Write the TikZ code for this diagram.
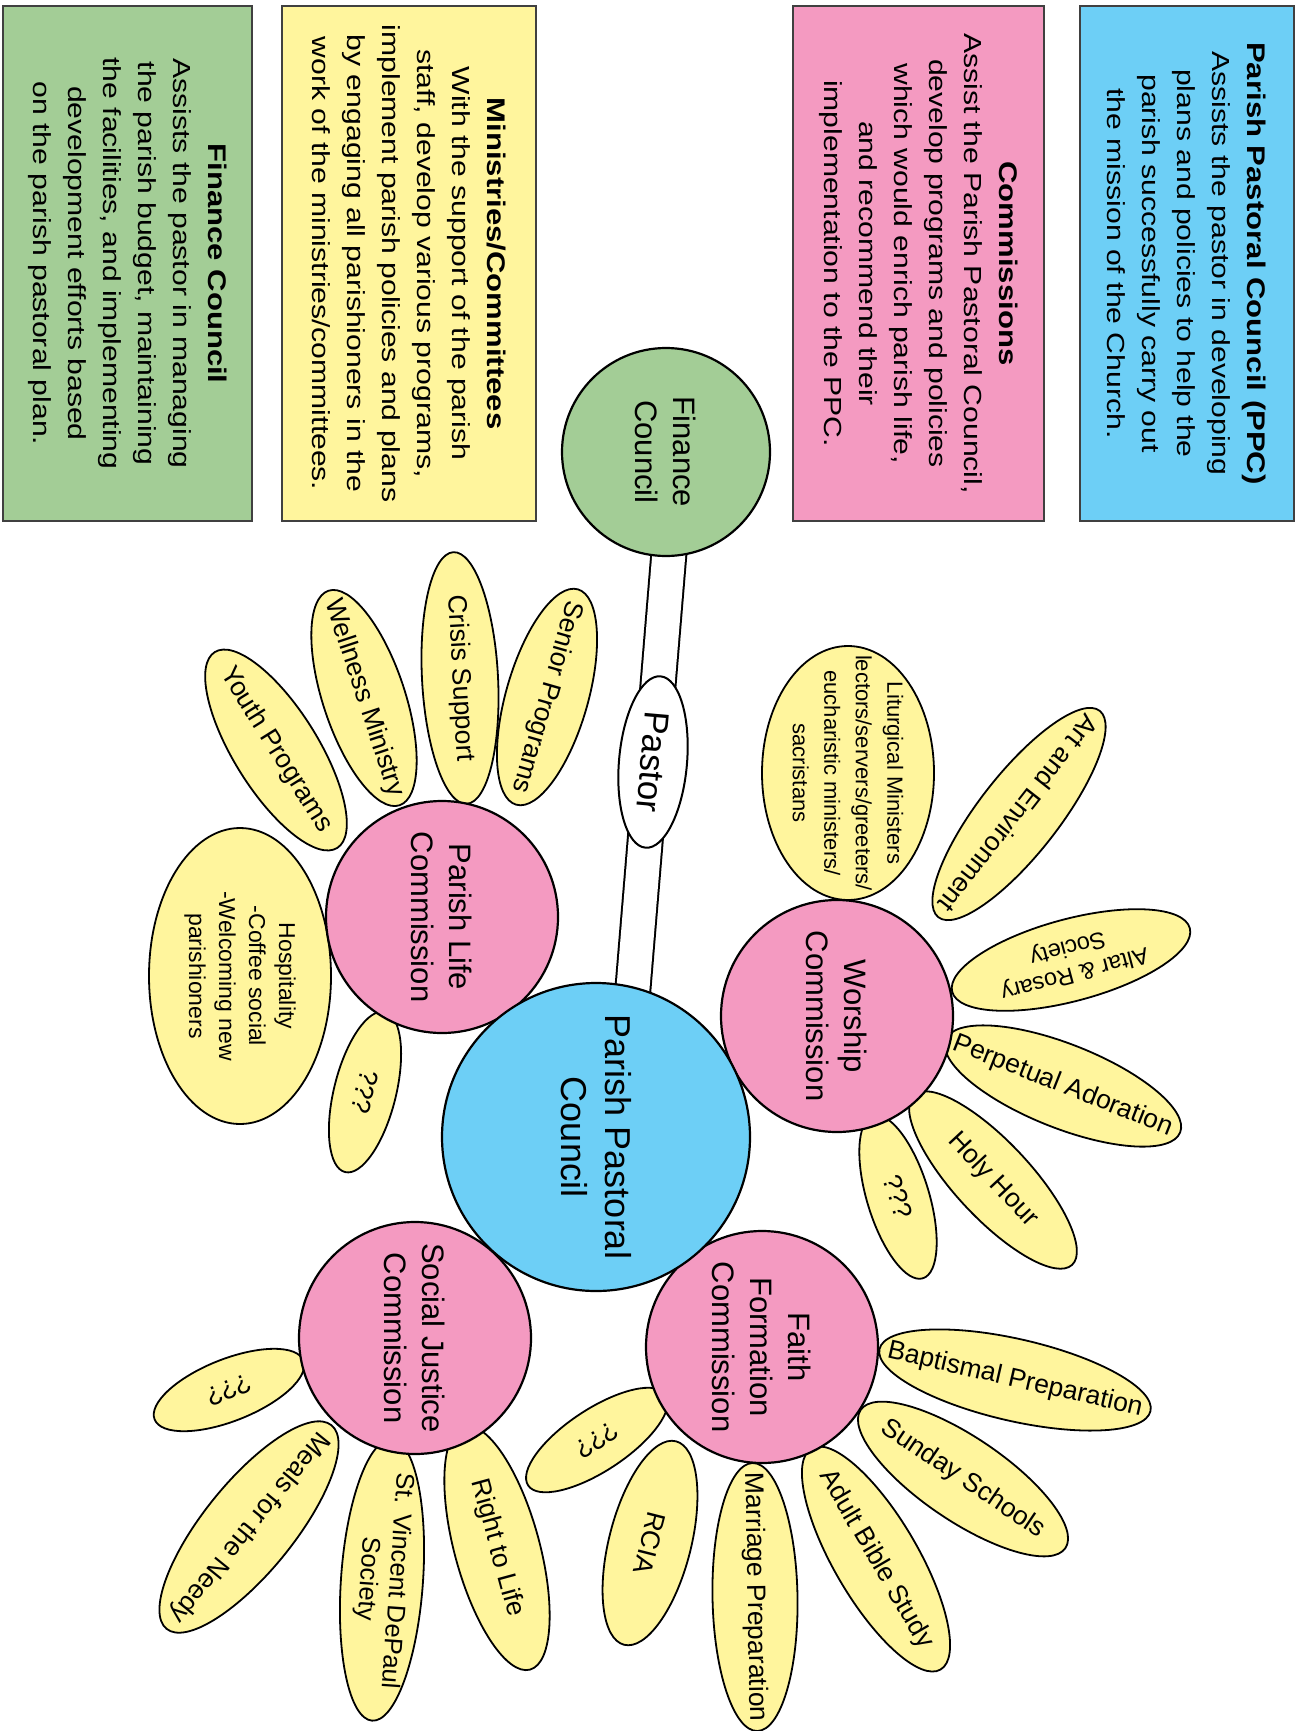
\documentclass[tikz,border=0pt]{standalone}
\usepackage{fontspec}
\setmainfont{Liberation Sans}
\newfontfamily\boxfam{Liberation Sans}[FakeStretch=1.22]
\usetikzlibrary{shapes.geometric}
\definecolor{ppcblue}{HTML}{6DCFF6}
\definecolor{compink}{HTML}{F49AC1}
\definecolor{petyellow}{HTML}{FFF59D}
\definecolor{fingreen}{HTML}{A3CD96}
\newcommand{\ttlfont}{\fontsize{25.5}{35}\selectfont\bfseries}
\tikzset{
  petal/.style={ellipse, draw=black, line width=1.8pt, fill=petyellow, inner sep=0pt},
  petaltext/.style={font=\fontsize{26.5}{30}\selectfont, align=center, inner sep=0pt},
  comm/.style={circle, draw=black, line width=2.2pt, fill=compink, minimum size=232pt, inner sep=0pt,
    rotate=-90, align=center, font=\fontsize{31}{38}\selectfont},
  infobox/.style={draw=black!75, line width=1.6pt, rotate=-90, align=center, inner sep=0pt,
    font=\boxfam\fontsize{24.7}{35}\selectfont},
  bar/.style={line width=2pt, double=white, double distance=33pt},
}
\newcommand{\petalnode}[8][]{%
  \node[petal, minimum width=#5, minimum height=#6, rotate=#7] (#2) at (#3,#4) {};
  \node[petaltext, rotate=#7, #1] (#2t) at (#2) {#8};}
\begin{document}
\begin{tikzpicture}[x=1pt,y=-1pt]
\useasboundingbox (0,0) rectangle (1302,1731);
\fill[white] (0,0) rectangle (1302,1731);

% bar between finance council and PPC
\coordinate (bartop) at (670,540);
\coordinate (barbot) at (632,1000);
\draw[bar] (bartop) -- (barbot);

% petals - worship
\petalnode[font=\fontsize{22}{31.5}\selectfont]{lit}{848}{773}{254}{172}{-90}{Liturgical Ministers\\lectors/servers/greeters/\\eucharistic ministers/\\sacristans}
\petalnode{art}{1019}{814}{262}{80}{232}{Art and Environment}
\petalnode[font=\fontsize{23.5}{27}\selectfont]{altar}{1071}{960}{246}{82}{195}{Altar \& Rosary\\Society}
\petalnode{perp}{1063}{1086}{252}{84}{-21.6}{Perpetual Adoration}
\petalnode{holy}{993}{1180}{232}{76}{-47}{Holy Hour}
\petalnode{wq}{898}{1197}{170}{62}{-73}{???}
% petals - parish life
\petalnode{senior}{547}{697}{224}{82}{-106}{Senior Programs}
\petalnode{crisis}{460}{678}{252}{76}{-87}{Crisis Support}
\petalnode{well}{364}{698}{226}{82}{-71.7}{Wellness Ministry}
\petalnode{youth}{276}{750}{231}{84}{-58}{Youth Programs}
\petalnode[font=\fontsize{23}{30}\selectfont]{hosp}{240}{976}{296}{182}{-90}{Hospitality\\-Coffee social\\-Welcoming new\\parishioners}
\petalnode{plq}{365}{1092}{165}{62}{-104}{???}
% petals - faith formation
\petalnode{bapt}{1015}{1380}{278}{82}{-12.9}{Baptismal Preparation}
\petalnode{sunday}{963}{1479}{247}{84}{-34}{Sunday Schools}
\petalnode{adult}{876}{1559}{256}{84}{-59.7}{Adult Bible Study}
\petalnode{marr}{755}{1597}{268}{85}{-89}{Marriage Preparation}
\petalnode{rcia}{650}{1543}{210}{82}{-104.3}{RCIA}
\petalnode{ffq}{597}{1440}{165}{62}{213.4}{???}
% petals - social justice
\petalnode{sjq}{229}{1390}{160}{62}{201.6}{???}
\petalnode{meals}{249}{1527}{262}{90}{231}{Meals for the Needy}
\petalnode[font=\fontsize{25.5}{29}\selectfont]{vinc}{382}{1580}{282}{82}{-94}{St. Vincent DePaul\\Society}
\petalnode{rtl}{497}{1548}{252}{85}{-74.8}{Right to Life}

% commission circles
\node[comm] (wor) at (837,1016) {Worship\\Commission};
\node[comm] (pl) at (442,917) {Parish Life\\Commission};
\node[comm] (ff) at (762,1347) {Faith\\Formation\\Commission};
\node[comm] (sj) at (415,1338) {Social Justice\\Commission};

% central circles
\node[circle, draw=black, line width=2.2pt, fill=ppcblue, minimum size=308pt, inner sep=0pt,
  rotate=-90, align=center, font=\fontsize{36}{44}\selectfont] (ppc) at (596,1137) {Parish Pastoral\\Council};
\node[circle, draw=black, line width=2.2pt, fill=fingreen, minimum size=208pt, inner sep=0pt,
  rotate=-90, align=center, font=\fontsize{31}{38}\selectfont] (fin) at (666,452) {Finance\\Council};
\node[ellipse, draw=black, line width=2pt, fill=white, minimum width=172pt, minimum height=68pt,
  inner sep=0pt, rotate=-95, font=\fontsize{35}{40}\selectfont] (pastor) at (653,762) {Pastor};

% description boxes
\node[infobox, fill=fingreen, minimum width=515pt, minimum height=249pt] (finbox) at (127.5,263.5)
  {{\ttlfont Finance Council}\\Assists the pastor in managing\\the parish budget, maintaining\\the facilities, and implementing\\development efforts based\\on the parish pastoral plan.};
\node[infobox, fill=petyellow, minimum width=515pt, minimum height=254pt] (minbox) at (409,263.5)
  {{\ttlfont Ministries/Committees}\\With the support of the parish\\staff, develop various programs,\\implement parish policies and plans\\by engaging all parishioners in the\\work of the ministries/committees.};
\node[infobox, fill=compink, minimum width=515pt, minimum height=251pt] (combox) at (918.5,263.5)
  {{\ttlfont Commissions}\\Assist the Parish Pastoral Council,\\develop programs and policies\\which would enrich parish life,\\and recommend their\\implementation to the PPC.};
\node[infobox, fill=ppcblue, minimum width=515pt, minimum height=214pt] (ppcbox) at (1187,263.5)
  {{\ttlfont Parish Pastoral Council (PPC)}\\Assists the pastor in developing\\plans and policies to help the\\parish successfully carry out\\the mission of the Church.};
\end{tikzpicture}
\end{document}
